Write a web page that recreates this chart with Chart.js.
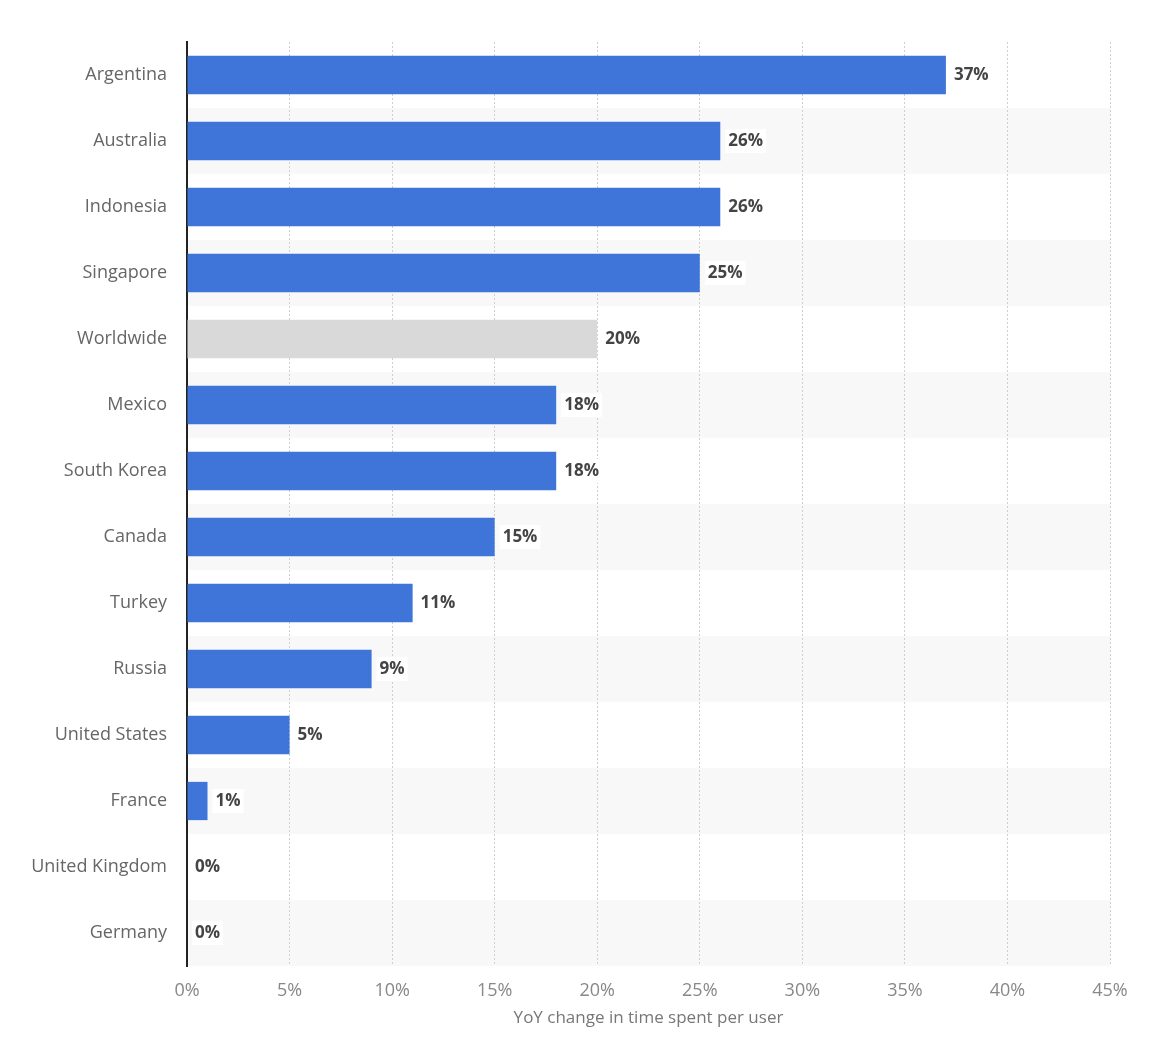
<!DOCTYPE html>
<html>
<head>
<meta charset="utf-8">
<script src="https://cdn.jsdelivr.net/npm/chart.js@4.4.1/dist/chart.umd.min.js"></script>
<style>
  html, body { margin: 0; padding: 0; background: #fff; }
  #wrap { width: 1150px; height: 1058px; position: relative; }
</style>
</head>
<body>
<div id="wrap"><canvas id="chart"></canvas></div>
<script>
// data
const countries = ['Argentina', 'Australia', 'Indonesia', 'Singapore', 'Worldwide', 'Mexico',
  'South Korea', 'Canada', 'Turkey', 'Russia', 'United States', 'France', 'United Kingdom', 'Germany'];
const changePct = [37, 26, 26, 25, 20, 18, 18, 15, 11, 9, 5, 1, 0, 0];
const xTicks = [0, 5, 10, 15, 20, 25, 30, 35, 40, 45];
const axisTitle = 'YoY change in time spent per user';

const BLUE = '#3f74d8';
const GREY = '#d9d9d9';
const FONT = '"Open Sans", "DejaVu Sans", sans-serif';

// alternating row bands, drawn first so grid and axis sit on top
const rowBands = {
  id: 'rowBands',
  beforeDraw(chart) {
    const { ctx, chartArea, scales: { y } } = chart;
    const step = (chartArea.bottom - chartArea.top) / countries.length;
    ctx.save();
    ctx.fillStyle = '#f8f8f8';
    countries.forEach((c, i) => {
      if (i % 2 === 1) {
        const top = y.getPixelForValue(i) - step / 2;
        ctx.fillRect(chartArea.left, top, chartArea.right - chartArea.left, step);
      }
    });
    ctx.restore();
  }
};

// value labels with white box, right of each bar
const valueLabels = {
  id: 'valueLabels',
  afterDatasetsDraw(chart) {
    const { ctx } = chart;
    const meta = chart.getDatasetMeta(0);
    ctx.save();
    ctx.font = 'bold 17px ' + FONT;
    ctx.textBaseline = 'middle';
    meta.data.forEach((bar, i) => {
      const txt = changePct[i] + '%';
      const x = bar.x + 8;
      const w = ctx.measureText(txt).width;
      ctx.fillStyle = '#fff';
      ctx.fillRect(x - 3, bar.y - 12, w + 6, 24);
      ctx.fillStyle = '#444';
      ctx.fillText(txt, x, bar.y);
    });
    ctx.restore();
  }
};

new Chart(document.getElementById('chart'), {
  type: 'bar',
  data: {
    labels: countries,
    datasets: [{
      data: changePct,
      backgroundColor: countries.map(c => c === 'Worldwide' ? GREY : BLUE),
      barPercentage: 0.58,
      categoryPercentage: 1
    }]
  },
  options: {
    indexAxis: 'y',
    responsive: true,
    maintainAspectRatio: false,
    animation: false,
    layout: { padding: { top: 42, right: 40, bottom: 26, left: 0 } },
    plugins: {
      legend: { display: false },
      tooltip: { enabled: false }
    },
    scales: {
      x: {
        min: 0,
        max: 45,
        afterBuildTicks: (s) => { s.ticks = xTicks.map(v => ({ value: v })); },
        afterFit: (s) => { s.height = 66; },
        grid: { color: '#cfcfcf', drawTicks: false, lineWidth: 1 },
        border: { display: false, dash: [2, 2] },
        ticks: {
          color: '#888',
          padding: 14,
          font: { family: FONT, size: 18 },
          callback: (v) => v + '%'
        },
        title: {
          display: true,
          text: axisTitle,
          color: '#777',
          padding: { top: 6, bottom: 4 },
          font: { family: FONT, size: 17 }
        }
      },
      y: {
        afterFit: (s) => { s.width = 187; },
        grid: { display: false, drawTicks: false },
        border: { display: true, color: '#222', width: 2 },
        ticks: {
          color: '#666',
          padding: 20,
          font: { family: FONT, size: 18 }
        }
      }
    }
  },
  plugins: [rowBands, valueLabels]
});
</script>
</body>
</html>
